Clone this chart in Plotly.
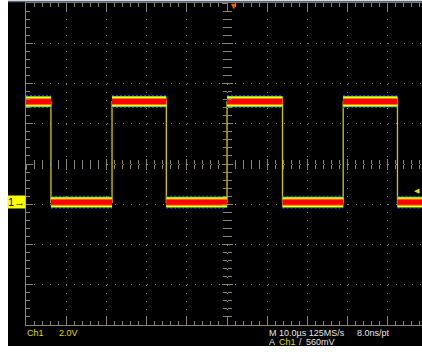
import plotly.graph_objects as go

# Captured waveform (Ch1, square wave), time in microseconds, level in volts
edge_times_us = [-43.8, -28.6, -15.1, 0.0, 13.8, 28.9, 42.4]
high_level_v = 5.0
low_level_v = 0.0
first_level_v = high_level_v
trigger_level_v = 0.56

# Screen window: 10 us/div horizontally, 2 V/div vertically
x_window_us = [-50.0, 48.5]
y_window_v = [-6.1, 9.9]
x_tick0, x_major, x_minor = 0.0, 10.0, 2.0
y_tick0, y_major, y_minor = -0.1, 2.0, 0.4

# Readout text
ch_label = "Ch1"
volts_div = "2.0V"
timebase = "M 10.0µs 125MS/s"
resolution = "8.0ns/pt"
trig_mode = "A"
trig_src = "Ch1"
trig_slope = "/"
trig_level = "560mV"

W, H = 422, 352
L, R, T, B = 26, 0, 3, 27
AXIS_COLOR = "#8a846c"
GRID_COLOR = "#8c8c8c"
YELLOW = "#e2dc00"
WHITE = "#e6e6e6"


def px_x(p):
    return (p - L) / (W - L - R)


def px_y(p):
    return (H - B - p) / (H - T - B)


def other(level):
    return low_level_v if level == high_level_v else high_level_v


# step trace through every edge
step_t, step_v = [x_window_us[0]], [first_level_v]
level = first_level_v
for e in edge_times_us:
    step_t += [e, e]
    step_v += [level, other(level)]
    level = other(level)
step_t.append(x_window_us[1])
step_v.append(level)

# flat segments only (for the persistence band)
bounds = [x_window_us[0]] + edge_times_us + [x_window_us[1]]
seg_t, seg_v = [], []
level = first_level_v
for a, b in zip(bounds[:-1], bounds[1:]):
    seg_t += [a, b, None]
    seg_v += [level, level, None]
    level = other(level)

fig = go.Figure()

fig.add_trace(go.Scatter(
    x=step_t, y=step_v, mode="lines",
    line=dict(color="#d6c800", width=1.3), hoverinfo="skip",
))

band_layers = [
    (13, "#1a3cff", "2px,2px"),
    (11, "#38d838", "solid"),
    (9.5, "#ffff00", "solid"),
    (7, "#ff7a00", "solid"),
    (5, "#ff0000", "solid"),
]
for width, color, dash in band_layers:
    fig.add_trace(go.Scatter(
        x=seg_t, y=seg_v, mode="lines",
        line=dict(color=color, width=width, dash=dash), hoverinfo="skip",
    ))

axis_common = dict(
    showline=True, linecolor=AXIS_COLOR, linewidth=1,
    ticks="inside", tickcolor=AXIS_COLOR, showticklabels=False,
    zeroline=False, showgrid=True, gridcolor=GRID_COLOR, gridwidth=1,
    griddash="1px,7.05px",
)
fig.update_xaxes(
    range=x_window_us, tick0=x_tick0, dtick=x_major, ticklen=9, mirror="ticks",
    minor=dict(ticks="inside", dtick=x_minor, tick0=x_tick0, ticklen=4,
               tickcolor=AXIS_COLOR, showgrid=False),
    **axis_common,
)
fig.update_yaxes(
    range=y_window_v, tick0=y_tick0, dtick=y_major, ticklen=7,
    minor=dict(ticks="inside", dtick=y_minor, tick0=y_tick0, ticklen=4,
               tickcolor=AXIS_COLOR, showgrid=False),
    **axis_common,
)

# centre graticule cross: ticks on both sides of each centre line
center_common = dict(showline=False, showgrid=False, zeroline=False,
                     showticklabels=False, tickcolor=AXIS_COLOR, ticklen=5)
for name, side in (("xaxis2", "outside"), ("xaxis3", "inside")):
    fig.update_layout({name: dict(
        overlaying="x", matches="x", anchor="free", position=0.5, side="bottom",
        ticks=side, tick0=x_tick0, dtick=x_major,
        minor=dict(ticks=side, dtick=x_minor, tick0=x_tick0, ticklen=4,
                   tickcolor=AXIS_COLOR),
        **center_common,
    )})
for name, side in (("yaxis2", "outside"), ("yaxis3", "inside")):
    fig.update_layout({name: dict(
        overlaying="y", matches="y", anchor="free", position=px_x(227), side="left",
        ticks=side, tick0=y_tick0, dtick=y_major,
        minor=dict(ticks=side, dtick=y_minor, tick0=y_tick0, ticklen=4,
                   tickcolor=AXIS_COLOR),
        **center_common,
    )})
for xa, ya in (("x2", "y2"), ("x3", "y3")):
    fig.add_trace(go.Scatter(x=[None], y=[None], xaxis=xa, yaxis=ya,
                             mode="lines", hoverinfo="skip"))

# screen background and frame
fig.add_shape(type="rect", xref="paper", yref="paper",
              x0=px_x(8), x1=px_x(W), y0=px_y(346), y1=px_y(2),
              fillcolor="black", line_width=0, layer="below")
fig.add_shape(type="line", xref="paper", yref="paper",
              x0=px_x(8), x1=px_x(W), y0=px_y(1.5), y1=px_y(1.5),
              line=dict(color="#52677d", width=1.5))

font = "Liberation Sans"
ann = [
    # trigger position marker
    dict(x=0, xref="x", y=px_y(-1), yref="paper", text="▼", yanchor="top",
         font=dict(color="#ff5a00", size=9)),
    # ground marker
    dict(x=0, xref="paper", y=low_level_v, yref="y", text="1<b>→</b>",
         xanchor="right", yanchor="middle", bgcolor="#ffff00",
         font=dict(color="black", size=11), borderpad=0),
    # trigger level marker
    dict(x=1, xref="paper", y=trigger_level_v, yref="y", text="◀",
         xanchor="right", yanchor="middle", font=dict(color=YELLOW, size=7)),
    dict(x=px_x(25), y=px_y(333), text=ch_label, font=dict(color=YELLOW, size=9)),
    dict(x=px_x(57), y=px_y(333), text=volts_div, font=dict(color=YELLOW, size=9)),
    dict(x=px_x(267), y=px_y(333), text=timebase, font=dict(color=WHITE, size=9)),
    dict(x=px_x(355), y=px_y(333), text=resolution, font=dict(color=WHITE, size=9)),
    dict(x=px_x(267), y=px_y(342), text=trig_mode, font=dict(color=WHITE, size=9)),
    dict(x=px_x(277), y=px_y(342), text=trig_src, font=dict(color=YELLOW, size=9)),
    dict(x=px_x(297), y=px_y(342), text=trig_slope, font=dict(color=WHITE, size=9)),
    dict(x=px_x(304), y=px_y(342), text=trig_level, font=dict(color=WHITE, size=9)),
]
for a in ann:
    a.setdefault("xref", "paper")
    a.setdefault("yref", "paper")
    a.setdefault("xanchor", "left")
    a.setdefault("yanchor", "middle")
    a["showarrow"] = False
    a["font"]["family"] = font
    fig.add_annotation(**a)

fig.update_layout(
    width=W, height=H,
    margin=dict(l=L, r=R, t=T, b=B, pad=0),
    paper_bgcolor="white", plot_bgcolor="black",
    showlegend=False,
)

# the page body has a default 8px margin; drop it so the figure fills the window
fig.write_html(
    "out.html",
    config={"displayModeBar": False, "staticPlot": True},
    post_script="document.body.style.margin='0';document.body.style.overflow='hidden';",
)
